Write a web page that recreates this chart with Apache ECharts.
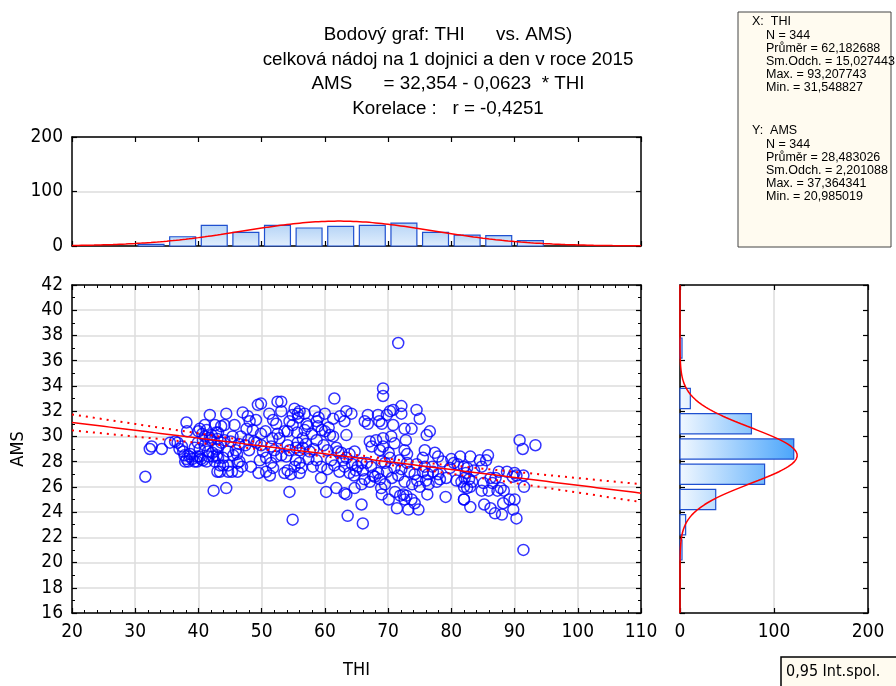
<!DOCTYPE html>
<html><head><meta charset="utf-8">
<script src="https://cdn.jsdelivr.net/npm/echarts@6/dist/echarts.min.js"></script>
<style>html,body{margin:0;padding:0;background:#fff}#c{width:896px;height:686px}</style>
</head><body><div id="c"></div><script>
// ---------- data ----------
const titleLines = [
  'Bodový graf: THI      vs. AMS)',
  'celková nádoj na 1 dojnici a den v roce 2015',
  'AMS      = 32,354 - 0,0623  * THI',
  'Korelace :   r = -0,4251'
];
const xAxisName = 'THI';
const yAxisName = 'AMS';
const legendText = '0,95 Int.spol.';
const statsX = ['X:  THI', 'N = 344', 'Průměr = 62,182688', 'Sm.Odch. = 15,027443', 'Max. = 93,207743', 'Min. = 31,548827'];
const statsY = ['Y:  AMS', 'N = 344', 'Průměr = 28,483026', 'Sm.Odch. = 2,201088', 'Max. = 37,364341', 'Min. = 20,985019'];

// histogram of THI (bin start, 5 units wide)
const thiBinStart = [30, 35, 40, 45, 50, 55, 60, 65, 70, 75, 80, 85, 90];
const thiCounts   = [3, 17, 38, 25, 38, 33, 36, 38, 42, 25, 20, 19, 10];
const thiBinWidth = 5;
// histogram of AMS (bin start, 2 units wide)
const amsBinStart = [20, 22, 24, 26, 28, 30, 32, 34, 36];
const amsCounts   = [1, 6, 38, 90, 121, 76, 11, 0, 1];
const amsBinWidth = 2;

// statistics shown on the chart
const nObs = 344;
const thiMean = 62.182688, thiSd = 15.027443;
const amsMean = 28.483026, amsSd = 2.201088;
const intercept = 32.354, slope = -0.0623, corr = -0.4251;
const tCrit = 1.967;

// scatter points [THI, AMS]
const points = [
[31.6,26.8],[32.3,29.0],[32.6,29.2],[34.2,29.0],[35.5,29.5],[36.3,29.6],[36.7,29.5],[38.1,31.1],[38.2,30.4],
[37.4,29.2],[37.6,28.8],[37.8,28.5],[38.1,28.2],[37.9,28.0],[38.4,28.0],[38.7,28.6],[39.4,29.1],[39.9,29.5],
[39.4,28.0],[40.0,30.4],[39.8,28.4],[40.2,30.6],[41.0,30.9],[41.3,30.5],[41.8,31.7],[42.6,30.9],[42.1,30.1],
[42.0,29.7],[41.0,29.3],[41.5,28.8],[42.3,28.4],[42.9,28.5],[40.7,28.1],[41.3,28.0],[42.6,28.0],[43.1,28.3],
[43.0,27.2],[42.4,25.7],[40.2,29.0],[40.7,29.7],[40.2,28.4],[37.0,29.0],[38.6,28.4],[39.0,28.2],[39.8,28.0],
[40.4,28.2],[41.6,28.4],[42.2,28.7],[42.8,29.0],[43.0,29.8],[41.8,29.9],[42.8,30.3],[40.6,30.2],[41.0,30.0],
[44.4,31.8],[44.1,30.9],[43.6,30.8],[45.7,30.9],[45.4,30.0],[45.1,29.6],[44.1,29.7],[43.6,29.5],[43.1,29.2],
[45.9,28.9],[46.1,28.6],[45.5,28.5],[44.7,28.8],[43.9,28.3],[44.7,27.7],[43.9,27.7],[43.4,27.7],[46.2,27.9],
[46.5,28.0],[44.7,27.2],[45.3,27.2],[43.4,27.2],[44.4,25.9],
[49.4,32.5],[49.9,32.6],[52.5,32.75],[53.1,32.75],[51.2,31.8],[53.1,32.0],[55.2,32.2],[55.7,31.8],[54.9,31.7],
[56.0,32.0],[48.1,31.2],[49.1,31.3],[51.8,31.3],[52.3,31.0],[54.4,31.2],[54.9,30.9],[53.6,30.4],[54.1,30.4],
[47.6,30.6],[48.6,30.5],[49.9,30.2],[50.6,30.4],[51.7,29.85],[52.8,29.85],[52.5,30.2],[47.9,29.7],[49.2,29.5],
[49.9,29.3],[51.5,29.2],[52.0,28.9],[54.1,29.3],[54.4,28.9],[55.4,29.1],[55.7,29.5],[48.0,28.9],[50.2,28.8],
[50.7,28.3],[52.3,28.4],[53.1,28.5],[53.9,28.4],[55.4,28.1],[56.0,27.9],[56.3,27.5],[55.2,27.6],[49.7,28.1],
[51.5,27.9],[51.8,27.5],[50.7,27.2],[51.3,26.9],[48.3,27.6],[49.5,27.1],[46.9,27.6],[46.2,27.2],[53.6,27.1],
[54.1,27.3],[54.6,27.0],[56.0,27.1],[54.4,25.6],[54.9,23.4],[43.1,30.3],[46.7,30.0],[47.4,29.3],[46.4,29.4],
[48.8,29.6],[47.0,31.9],[47.8,31.6],
[61.5,33.0],[56.8,31.8],[58.4,32.0],[60.0,31.8],[63.4,32.0],[64.2,31.8],[66.8,31.7],[66.3,31.2],[66.8,31.0],
[68.6,31.2],[68.4,31.7],[61.3,31.4],[63.1,31.2],[57.1,31.0],[57.3,30.8],[58.7,31.2],[58.9,30.8],[59.5,30.5],
[60.0,30.4],[60.8,30.1],[61.3,30.0],[56.8,30.5],[57.9,30.2],[56.5,29.85],[58.7,29.7],[63.4,30.1],[67.1,29.6],
[67.4,29.2],[68.1,29.7],[68.7,28.9],[69.2,29.2],[56.0,28.9],[56.5,29.1],[57.6,28.8],[58.7,28.1],[58.1,27.6],
[59.4,27.6],[61.0,28.1],[61.8,29.1],[62.1,28.8],[62.6,28.7],[62.9,28.1],[63.4,28.3],[63.9,28.6],[64.7,28.8],
[63.1,27.6],[63.9,27.1],[62.3,27.2],[65.2,27.6],[65.8,27.9],[66.0,27.3],[66.6,27.9],[67.3,27.6],[67.6,26.9],
[68.4,27.1],[68.7,26.6],[67.1,26.4],[67.9,26.8],[68.9,25.9],[59.4,26.7],[60.2,25.6],[61.8,25.9],[63.1,25.5],
[63.4,25.4],[64.7,25.9],[65.8,26.2],[65.8,24.6],[63.6,23.7],[66.0,23.1],[55.8,31.5],[55.6,30.3],[57.0,29.4],
[58.2,29.0],[59.8,29.3],[60.4,28.9],[57.4,28.2],[60.4,27.4],[61.5,27.7],[64.3,27.8],[64.9,27.3],[66.3,26.6],
[64.6,26.9],[59.0,31.5],[60.6,30.7],[62.4,31.6],
[71.6,37.4],[69.2,33.8],[69.2,33.2],[69.8,31.7],[70.3,32.0],[70.8,32.1],[72.1,32.4],[72.1,31.8],[74.5,32.1],
[75.0,31.4],[69.0,31.0],[70.8,30.9],[72.6,30.6],[73.7,30.6],[76.1,30.1],[76.6,30.4],[69.2,29.85],[70.5,30.0],
[71.0,29.45],[72.8,29.7],[72.6,28.9],[73.0,28.6],[75.8,28.9],[77.4,28.7],[77.9,28.4],[70.1,28.7],[81.4,28.4],
[82.5,27.5],[69.0,28.0],[69.5,27.9],[75.5,28.3],[69.8,27.2],[71.0,27.5],[72.1,27.4],[73.4,27.2],[74.2,27.0],
[75.5,27.2],[76.3,27.0],[77.1,27.2],[77.9,27.0],[79.2,26.7],[80.8,26.5],[81.6,26.4],[82.1,26.7],[71.1,25.6],
[71.9,25.3],[72.4,25.4],[72.9,25.3],[72.6,25.0],[73.7,25.0],[74.2,24.7],[74.8,24.2],[73.2,24.2],[71.4,24.3],
[70.1,25.0],[69.0,25.4],[76.2,25.4],[79.1,25.2],[82.0,25.0],[76.4,26.2],[77.7,26.4],[69.5,26.2],[71.8,28.1],
[73.0,27.9],[74.5,27.8],[75.8,27.6],[77.0,27.6],[78.2,26.6],[76.0,26.5],[74.6,26.5],[73.8,26.2],[75.0,26.0],
[70.6,26.7],[71.6,26.9],[72.6,26.4],[78.6,28.0],[79.8,27.5],[80.4,27.9],[70.3,28.3],[80.0,28.2],[81.0,27.8],
[83.0,28.4],[84.5,28.1],[85.8,28.5],[85.5,28.1],[84.8,27.6],[82.0,27.6],[82.3,27.1],[82.8,26.6],[83.3,26.4],
[83.0,26.0],[82.5,25.9],[82.0,26.0],[83.6,27.3],[85.1,26.3],[86.2,26.7],[86.5,26.3],[87.0,26.7],[87.5,27.2],
[87.8,25.9],[88.3,25.7],[87.3,25.7],[85.9,25.7],[84.8,25.7],[88.8,27.2],[89.7,26.8],[90.3,26.9],[90.0,27.1],
[91.4,26.9],[91.5,26.0],[83.0,24.4],[85.2,24.6],[86.2,24.3],[86.9,23.9],[88.0,23.8],[88.2,24.7],[89.2,25.0],
[90.0,25.0],[89.8,24.2],[90.3,23.5],[82.0,25.0],[90.8,29.7],[91.3,29.0],[93.3,29.3],[91.4,21.0]
];

// ---------- derived lines (from the stated statistics) ----------
const SQ2PI = Math.sqrt(2 * Math.PI);
function npdf(v, m, s) { return Math.exp(-0.5 * ((v - m) / s) ** 2) / (s * SQ2PI); }
const thiCurve = [], amsCurve = [], fitLine = [], ciUp = [], ciLo = [];
for (let x = 20; x <= 110.001; x += 0.5) thiCurve.push([x, nObs * thiBinWidth * npdf(x, thiMean, thiSd)]);
for (let y = 16; y <= 42.001; y += 0.1) amsCurve.push([nObs * amsBinWidth * npdf(y, amsMean, amsSd), y]);
const sRes = amsSd * Math.sqrt(1 - corr * corr) * Math.sqrt((nObs - 1) / (nObs - 2));
const sxx = (nObs - 1) * thiSd * thiSd;
for (let x = 20; x <= 110.001; x += 1) {
  const f = intercept + slope * x;
  const se = sRes * Math.sqrt(1 / nObs + (x - thiMean) ** 2 / sxx);
  fitLine.push([x, f]); ciUp.push([x, f + tCrit * se]); ciLo.push([x, f - tCrit * se]);
}

// ---------- chart ----------
const NARROW = '"Liberation Sans Narrow", "DejaVu Sans Condensed", "Liberation Sans", sans-serif';
const REG = '"Liberation Sans", Arial, sans-serif';
const G = { scatter: { left: 72, top: 285, width: 569, height: 328 },
            top: { left: 72, top: 137, width: 569, height: 109 },
            right: { left: 680, top: 285, width: 188, height: 328 } };
const lineBlack = { show: true, onZero: false, lineStyle: { color: '#000', width: 1.5 } };
const grayGrid = { show: true, lineStyle: { color: '#dcdcdc', width: 1.5 } };
const lbl = { color: '#000', fontFamily: NARROW, fontSize: 19 };
function mirror(extra) {
  return Object.assign({ type: 'value', axisLine: lineBlack, axisLabel: { show: false },
    axisTick: { show: true, inside: true, length: 5, lineStyle: { color: '#000', width: 1.2 } },
    splitLine: { show: false } }, extra);
}
const tick = { show: true, inside: true, length: 5, lineStyle: { color: '#000', width: 1.2 } };
const minor = (n) => ({ show: true, splitNumber: n, length: 3, lineStyle: { color: '#000', width: 1 } });

const topGrad = new echarts.graphic.LinearGradient(0, 0, 0, 1, [
  { offset: 0, color: '#b6d4f6' }, { offset: 1, color: '#e2effd' }]);
const rightGrad = { type: 'linear', x: G.right.left, y: 0, x2: G.right.left + 115, y2: 0, global: true,
  colorStops: [{ offset: 0, color: '#f0f7ff' }, { offset: 1, color: '#4aa5fb' }] };

const chart = echarts.init(document.getElementById('c'), null, { renderer: 'canvas' });
chart.setOption({
  animation: false,
  backgroundColor: '#fff',
  title: { text: titleLines.join('\n'), left: 'center', top: 18,
    textStyle: { fontFamily: REG, fontSize: 18.8, fontWeight: 'normal', color: '#000', lineHeight: 24.4 } },
  grid: [G.scatter, G.top, G.right],
  xAxis: [
    { type: 'value', gridIndex: 0, min: 20, max: 110, interval: 10, position: 'bottom', axisLine: lineBlack,
      axisTick: tick, minorTick: minor(5), axisLabel: Object.assign({ margin: 10 }, lbl), splitLine: grayGrid,
      name: xAxisName, nameLocation: 'middle', nameGap: 48, nameTextStyle: { fontFamily: NARROW, fontSize: 18, color: '#000' } },
    mirror({ gridIndex: 0, min: 20, max: 110, interval: 10, position: 'top', minorTick: minor(5) }),
    mirror({ gridIndex: 1, min: 20, max: 110, interval: 10, position: 'bottom' }),
    mirror({ gridIndex: 1, min: 20, max: 110, interval: 10, position: 'top' }),
    { type: 'value', gridIndex: 2, min: 0, max: 200, interval: 100, position: 'bottom', axisLine: lineBlack,
      axisTick: tick, axisLabel: Object.assign({ margin: 10 }, lbl), splitLine: grayGrid },
    mirror({ gridIndex: 2, min: 0, max: 200, interval: 100, position: 'top' })
  ],
  yAxis: [
    { type: 'value', gridIndex: 0, min: 16, max: 42, interval: 2, position: 'left', axisLine: lineBlack,
      axisTick: tick, minorTick: minor(2), axisLabel: Object.assign({ margin: 9 }, lbl), splitLine: grayGrid,
      name: yAxisName, nameLocation: 'middle', nameGap: 45, nameTextStyle: { fontFamily: NARROW, fontSize: 18, color: '#000' } },
    mirror({ gridIndex: 0, min: 16, max: 42, interval: 2, position: 'right', minorTick: minor(2) }),
    { type: 'value', gridIndex: 1, min: 0, max: 200, interval: 100, position: 'left', axisLine: lineBlack,
      axisTick: tick, axisLabel: Object.assign({ margin: 9 }, lbl), splitLine: grayGrid },
    mirror({ gridIndex: 1, min: 0, max: 200, interval: 100, position: 'right' }),
    mirror({ gridIndex: 2, min: 16, max: 42, interval: 2, position: 'left' }),
    mirror({ gridIndex: 2, min: 16, max: 42, interval: 2, position: 'right' })
  ],
  series: [
    { type: 'custom', xAxisIndex: 2, yAxisIndex: 2, encode: { x: 0, y: 1 }, z: 3,
      data: thiBinStart.map((b, i) => [b, thiCounts[i]]),
      renderItem: (p, api) => {
        const b = api.value(0), c = api.value(1), inset = 0.45;
        const a = api.coord([b + inset, c]), z = api.coord([b + thiBinWidth - inset, 0]);
        return { type: 'rect', shape: { x: a[0], y: a[1], width: z[0] - a[0], height: z[1] - a[1] },
          style: { fill: topGrad, stroke: '#1f50d0', lineWidth: 1.2 } };
      } },
    { type: 'line', xAxisIndex: 2, yAxisIndex: 2, data: thiCurve, showSymbol: false, symbol: 'none', z: 4,
      lineStyle: { color: '#ff0000', width: 1.5 }, clip: true },
    { type: 'custom', xAxisIndex: 4, yAxisIndex: 4, encode: { x: 1, y: 0 }, z: 3,
      data: amsBinStart.map((b, i) => [b, amsCounts[i]]),
      renderItem: (p, api) => {
        const b = api.value(0), c = api.value(1), inset = 0.2;
        if (!c) return null;
        const a = api.coord([0, b + amsBinWidth - inset]), z = api.coord([c, b + inset]);
        return { type: 'rect', shape: { x: a[0], y: a[1], width: Math.max(z[0] - a[0], 2), height: z[1] - a[1] },
          style: { fill: rightGrad, stroke: '#1f50d0', lineWidth: 1.2 } };
      } },
    { type: 'line', xAxisIndex: 4, yAxisIndex: 4, data: amsCurve, showSymbol: false, symbol: 'none', z: 4,
      lineStyle: { color: '#ff0000', width: 1.5 }, clip: true },
    { type: 'scatter', xAxisIndex: 0, yAxisIndex: 0, data: points, symbol: 'circle', symbolSize: 11, z: 3,
      itemStyle: { color: 'rgba(0,0,0,0)', borderColor: '#0000ff', borderWidth: 1.5 } },
    { type: 'line', xAxisIndex: 0, yAxisIndex: 0, data: fitLine, symbol: 'none', z: 4,
      lineStyle: { color: '#ff0000', width: 1.5 } },
    { type: 'line', xAxisIndex: 0, yAxisIndex: 0, data: ciUp, symbol: 'none', z: 4,
      lineStyle: { color: '#ff0000', width: 2, type: [2, 5] } },
    { type: 'line', xAxisIndex: 0, yAxisIndex: 0, data: ciLo, symbol: 'none', z: 4,
      lineStyle: { color: '#ff0000', width: 2, type: [2, 5] } }
  ],
  graphic: [
    { type: 'rect', shape: { x: 738, y: 12, width: 153, height: 235 }, z: 10,
      style: { fill: '#fffbf0', stroke: '#444', lineWidth: 1 } },
    ...statsX.map((t, i) => ({ type: 'text', z: 11, x: i === 0 ? 752 : 766, y: 22 + i * 13.2,
      style: { text: t, font: '12.5px ' + REG, fill: '#000', verticalAlign: 'middle' } })),
    ...statsY.map((t, i) => ({ type: 'text', z: 11, x: i === 0 ? 752 : 766, y: 131 + i * 13.2,
      style: { text: t, font: '12.5px ' + REG, fill: '#000', verticalAlign: 'middle' } })),
    { type: 'rect', shape: { x: 781, y: 657, width: 120, height: 40 }, z: 10,
      style: { fill: '#fffbf0', stroke: '#000', lineWidth: 1.5 } },
    { type: 'text', z: 11, x: 786, y: 672, style: { text: legendText, font: '16px ' + NARROW, fill: '#000', verticalAlign: 'middle' } }
  ]
});
</script></body></html>
